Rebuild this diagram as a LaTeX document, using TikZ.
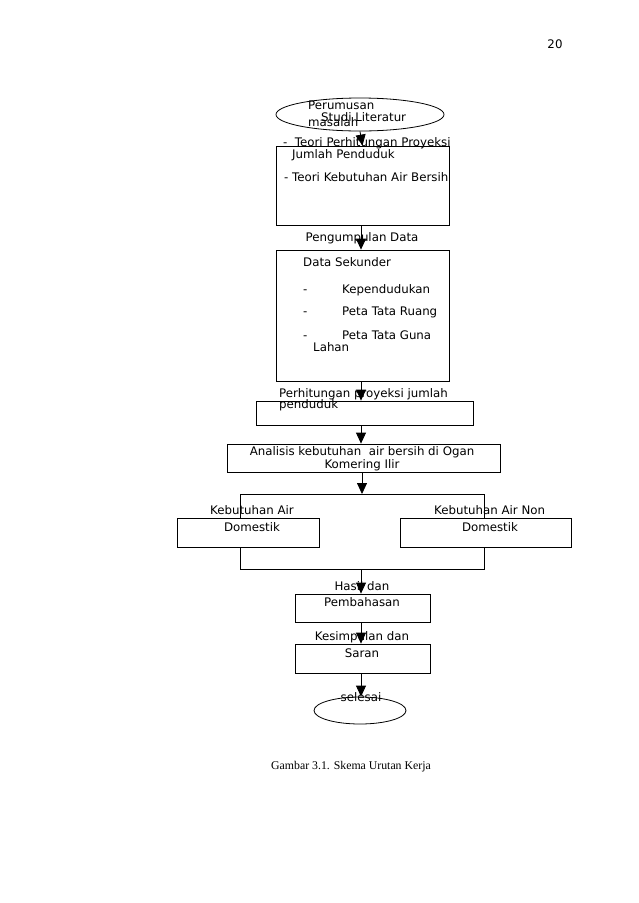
\documentclass[tikz,border=0pt]{standalone}
\usepackage{fontspec}
\setmainfont{DejaVu Sans}
\newfontfamily\capfont{Liberation Serif}
\usetikzlibrary{arrows.meta,shapes.geometric}
\tikzset{
  box/.style={draw,line width=0.8pt,inner sep=0pt},
  oval/.style={draw,line width=0.8pt,ellipse,inner sep=0pt},
  lbl/.style={inner sep=0pt,anchor=west,text height=8.5pt,text depth=2.5pt,font=\fontsize{11.8}{13}\selectfont},
  clbl/.style={inner sep=0pt,text height=8.5pt,text depth=2.5pt,font=\fontsize{11.8}{13}\selectfont},
  flow/.style={line width=0.8pt,-{Triangle[length=11pt,width=10pt]}},
  plain/.style={line width=0.8pt}
}
\begin{document}
\begin{tikzpicture}[x=1pt,y=-1pt]
\useasboundingbox (0,0) rectangle (638,903);
% page number
\node[clbl] (pg) at (555,45) {20};
% start ellipse
\node[oval,minimum width=168pt,minimum height=33pt] (start) at (360,114.5) {};
\node[lbl] (t1a) at (308,106) {Perumusan};
\node[lbl] (t1b) at (308,123) {masalah};
\node[lbl] (t1c) at (321,118) {Studi Literatur};
% box 1
\node[box,minimum width=173pt,minimum height=79pt] (b1) at (362.5,185.5) {};
\node[lbl] (b1a) at (283,143) {-\ \ Teori Perhitungan Proyeksi};
\node[lbl] (b1b) at (292,155) {Jumlah Penduduk};
\node[lbl] (b1c) at (284,178) {- Teori Kebutuhan Air Bersih};
\draw[flow] (start.south) -- (b1.north);
% box 2
\node[box,minimum width=173pt,minimum height=131pt] (b2) at (362.5,315.5) {};
\node[clbl] (pd) at (362,238) {Pengumpulan Data};
\node[lbl] (b2a) at (303,263) {Data Sekunder};
\node[lbl] (b2b) at (303,290) {-};
\node[lbl] (b2c) at (342,290) {Kependudukan};
\node[lbl] (b2d) at (303,312) {-};
\node[lbl] (b2e) at (342,312) {Peta Tata Ruang};
\node[lbl] (b2f) at (303,336) {-};
\node[lbl] (b2g) at (342,336) {Peta Tata Guna};
\node[lbl] (b2h) at (313,348) {Lahan};
\draw[flow] (b1.south -| 361,0) -- (b2.north -| 361,0);
% box 3
\node[box,minimum width=217pt,minimum height=24pt] (b3) at (364.5,413) {};
\node[lbl] (b3a) at (279,394) {Perhitungan proyeksi jumlah};
\node[lbl] (b3b) at (279,405) {penduduk};
\draw[flow] (b2.south -| 361,0) -- (b3.north -| 361,0);
% box 4
\node[box,minimum width=273pt,minimum height=28pt] (b4) at (363.5,458) {};
\node[clbl] (b4a) at (362,452) {Analisis kebutuhan\ \ air bersih di Ogan};
\node[clbl] (b4b) at (362,465) {Komering Ilir};
\draw[flow] (b3.south -| 361,0) -- (b4.north -| 361,0);
% frame
\coordinate (ftl) at (240,494);
\coordinate (ftr) at (484,494);
\coordinate (fbl) at (240,569);
\coordinate (fbr) at (484,569);
\draw[plain] (ftl) -- (ftr) -- (fbr) -- (fbl) -- cycle;
\draw[flow] (b4.south -| 362,0) -- (362,494);
% left and right boxes
\node[box,fill=white,minimum width=142pt,minimum height=29pt] (bl) at (248,532.5) {};
\node[box,fill=white,minimum width=171pt,minimum height=29pt] (br) at (485.5,532.5) {};
\node[lbl] (bla) at (210,511) {Kebutuhan Air};
\node[clbl] (blb) at (252,528) {Domestik};
\node[lbl] (bra) at (434,511) {Kebutuhan Air Non};
\node[clbl] (brb) at (490,528) {Domestik};
% box 5
\node[box,minimum width=135pt,minimum height=28pt] (b5) at (362.5,608) {};
\node[clbl] (b5a) at (362,587) {Hasil dan};
\node[clbl] (b5b) at (362,603) {Pembahasan};
\draw[flow] (361,569) -- (b5.north -| 361,0);
% box 6
\node[box,minimum width=135pt,minimum height=29pt] (b6) at (362.5,658.5) {};
\node[clbl] (b6a) at (362,637) {Kesimpulan dan};
\node[clbl] (b6b) at (362,654) {Saran};
\draw[flow] (b5.south -| 361,0) -- (b6.north -| 361,0);
% end ellipse
\node[oval,minimum width=92pt,minimum height=27pt] (end) at (360,710.5) {};
\node[clbl] (enda) at (361,698) {selesai};
\draw[flow] (b6.south -| 361,0) -- (end.north -| 361,0);
% caption
\node[inner sep=0pt,font=\capfont\fontsize{11.8}{13}\selectfont] (cap) at (351,767) {Gambar 3.1. Skema Urutan Kerja};
\end{tikzpicture}
\end{document}
